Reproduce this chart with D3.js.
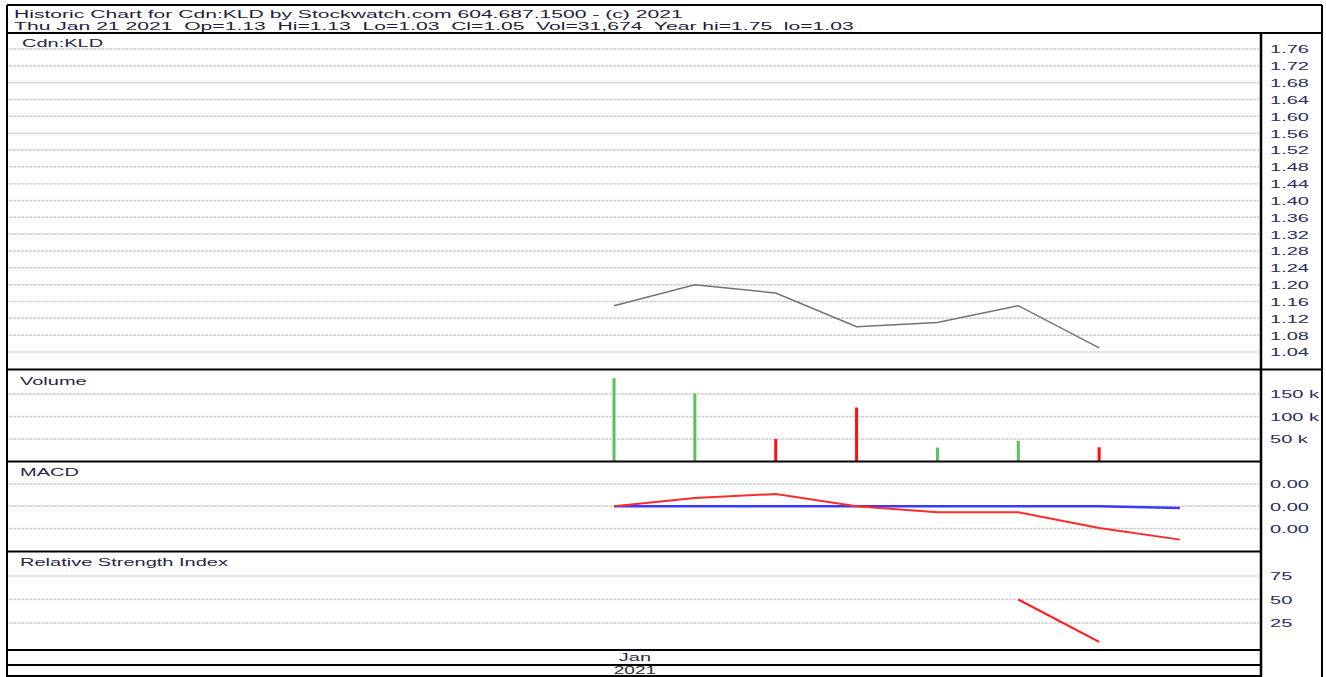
<!DOCTYPE html>
<html>
<head>
<meta charset="utf-8">
<script src="https://cdn.jsdelivr.net/npm/d3@7"></script>
<style>
  html, body { margin: 0; padding: 0; background: #fff; }
  svg { display: block; }
  text { font-family: "Liberation Sans", Arial, sans-serif; white-space: pre; }
</style>
</head>
<body>
<svg id="chart" width="1326" height="677"></svg>
<script>
// ---------------- data ----------------
const headerLine1 = "Historic Chart for Cdn:KLD by Stockwatch.com 604.687.1500 - (c) 2021";
const headerLine2 = "Thu Jan 21 2021  Op=1.13  Hi=1.13  Lo=1.03  Cl=1.05  Vol=31,674  Year hi=1.75  lo=1.03";
const panelTitles = ["Cdn:KLD", "Volume", "MACD", "Relative Strength Index"];
const dates = ["Jan 13", "Jan 14", "Jan 15", "Jan 18", "Jan 19", "Jan 20", "Jan 21"];
const closes = [1.15, 1.20, 1.18, 1.10, 1.11, 1.15, 1.05];
const volumes = [185000, 151000, 50000, 120000, 31000, 46000, 31674];
const macdValues = [0, 0.0015, 0.0022, 0, -0.0011, -0.0011, -0.0039, -0.0060];
const signalValues = [0, 0, 0, 0, 0, 0, 0, -0.0003];
const rsiValues = [null, null, null, null, null, 50, 5];
const priceTicks = [1.76, 1.72, 1.68, 1.64, 1.60, 1.56, 1.52, 1.48, 1.44, 1.40, 1.36, 1.32, 1.28, 1.24, 1.20, 1.16, 1.12, 1.08, 1.04];
const volumeTicks = [150000, 100000, 50000];
const macdTicks = [0.004, 0, -0.004];
const rsiTicks = [75, 50, 25];
const monthLabels = ["Jan"];
const yearLabels = ["2021"];

// ---------------- layout ----------------
const L = 7, R = 1322, DIV = 1261;
const TOP = 5, HEAD_B = 33, PRICE_B = 369.5, VOL_B = 461.5, MACD_B = 551.5, RSI_B = 650, DATE_MID = 665, BOTTOM = 676;
const LABEL_X = 1270;
const SX = 1.82, SX_HEAD = 1.92;
const tickColor = "#2c2c62", titleColor = "#26263e";

const svg = d3.select("#chart");

const x = d3.scaleLinear().domain([0, 7]).range([614, 1180]);
const yPrice = d3.scaleLinear().domain([1.04, 1.76]).range([352, 49]);
const yVol = d3.scaleLinear().domain([0, 150000]).range([VOL_B, 394]);
const yMacd = d3.scaleLinear().domain([-0.004, 0.004]).range([528.5, 484]);
const yRsi = d3.scaleLinear().domain([0, 100]).range([646.5, 552.5]);

// gridlines
function grid(ticks, scale) {
  svg.append("g").selectAll("line").data(ticks).join("line")
    .attr("x1", L + 2).attr("x2", DIV - 2)
    .attr("y1", d => scale(d)).attr("y2", d => scale(d))
    .attr("stroke", "#cfcfcf").attr("stroke-width", 1.5).attr("stroke-dasharray", "3,1");
}
grid(priceTicks, yPrice);
grid(volumeTicks, yVol);
grid(macdTicks, yMacd);
grid(rsiTicks, yRsi);

// right axes
function rightAxis(scale, ticks, fmt) {
  const g = svg.append("g").attr("transform", `translate(${LABEL_X},0)`)
    .call(d3.axisRight(scale).tickValues(ticks).tickSize(0).tickPadding(0).tickFormat(fmt));
  g.select(".domain").remove();
  g.selectAll("text")
    .attr("x", 0).attr("dy", "0.36em")
    .attr("transform", `scale(${SX},1)`)
    .attr("fill", tickColor)
    .style("font-size", "11px")
    .style("font-family", '"Liberation Sans", Arial, sans-serif');
}
rightAxis(yPrice, priceTicks, d3.format(".2f"));
rightAxis(yVol, volumeTicks, d => (d / 1000) + " k");
rightAxis(yMacd, macdTicks, d3.format(".2f"));
rightAxis(yRsi, rsiTicks, d3.format("d"));

// price line
svg.append("path")
  .datum(closes)
  .attr("fill", "none").attr("stroke", "#727272").attr("stroke-width", 1.5)
  .attr("d", d3.line().x((d, i) => x(i)).y(d => yPrice(d)));

// volume bars
svg.append("g").selectAll("rect").data(volumes).join("rect")
  .attr("x", (d, i) => x(i) - 1.5)
  .attr("width", 3)
  .attr("y", d => yVol(d))
  .attr("height", d => yVol(0) - yVol(d))
  .attr("fill", (d, i) => (i === 0 || closes[i] >= closes[i - 1]) ? "#56c456" : "#ff1010");

// MACD
svg.append("path").datum(signalValues)
  .attr("fill", "none").attr("stroke", "#3a3aff").attr("stroke-width", 2.5)
  .attr("d", d3.line().x((d, i) => x(i)).y(d => yMacd(d)));
svg.append("path").datum(macdValues)
  .attr("fill", "none").attr("stroke", "#ff2a2a").attr("stroke-width", 2)
  .attr("d", d3.line().x((d, i) => x(i)).y(d => yMacd(d)));

// RSI
svg.append("path").datum(rsiValues)
  .attr("fill", "none").attr("stroke", "#ff1a1a").attr("stroke-width", 2)
  .attr("d", d3.line().defined(d => d != null).x((d, i) => x(i)).y(d => yRsi(d)));

// frame lines
const hLines = [
  [L, R, TOP], [L, R, HEAD_B], [L, R, PRICE_B],
  [L, DIV, VOL_B], [L, DIV, MACD_B], [L, DIV, RSI_B], [L, DIV, DATE_MID], [L, DIV, BOTTOM]
];
svg.append("g").selectAll("line").data(hLines).join("line")
  .attr("x1", d => d[0]).attr("x2", d => d[1])
  .attr("y1", d => d[2]).attr("y2", d => d[2])
  .attr("stroke", "#000").attr("stroke-width", 2);
const vLines = [[L, TOP, 677], [R, TOP, 677], [DIV, HEAD_B, 677]];
svg.append("g").selectAll("line").data(vLines).join("line")
  .attr("x1", d => d[0]).attr("x2", d => d[0])
  .attr("y1", d => d[1]).attr("y2", d => d[2])
  .attr("stroke", "#000").attr("stroke-width", d => d[0] === DIV ? 2.5 : 2);

// texts
function label(txt, tx, ty, sx, color, anchor, size) {
  svg.append("text")
    .attr("transform", `translate(${tx},${ty}) scale(${sx},1)`)
    .attr("text-anchor", anchor || "start")
    .attr("fill", color)
    .style("font-size", (size || 11) + "px")
    .text(txt);
}
label(headerLine1, 14, 18, SX_HEAD, "#1e1e3a");
label(headerLine2, 14, 29.5, SX_HEAD, "#1e1e3a");
const titleY = [46.5, 384.5, 475.5, 566];
const titleX = [22, 20, 20, 20];
panelTitles.forEach((t, i) => label(t, titleX[i], titleY[i], SX, titleColor));

const monthX = x(0) + 21;
monthLabels.forEach(m => label(m, monthX, 661, SX, "#2a2a40", "middle"));
yearLabels.forEach(yv => label(yv, monthX, 673.5, SX, "#2a2a40", "middle", 10.5));
</script>
</body>
</html>
